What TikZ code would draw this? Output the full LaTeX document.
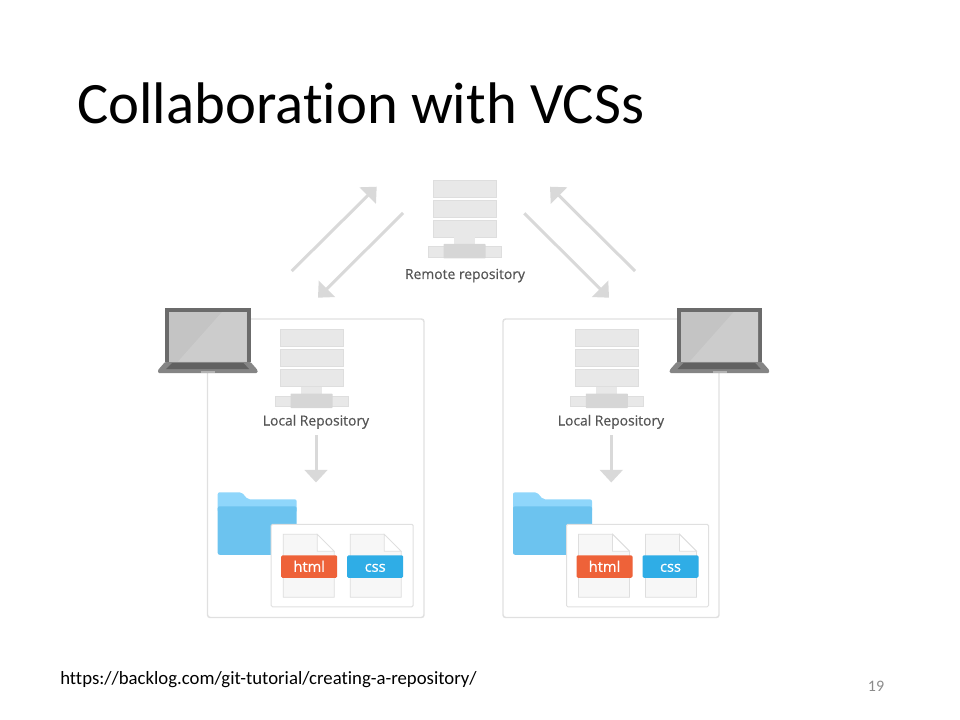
\documentclass[tikz,border=0pt]{standalone}
\usepackage{fontspec}
\setmainfont[Ligatures=NoCommon]{Carlito}
\newfontfamily\repofont[FakeBold=0.6]{Open Sans}
\usetikzlibrary{arrows.meta}

\definecolor{framegray}{HTML}{E0E0E0}
\definecolor{slabgray}{HTML}{E8E8E8}
\definecolor{slabline}{HTML}{DEDEDE}
\definecolor{blockgray}{HTML}{D6D6D6}
\definecolor{arrowgray}{HTML}{D9D9D9}
\definecolor{textgray}{HTML}{555555}
\definecolor{folderlight}{HTML}{8FD6FB}
\definecolor{folderbody}{HTML}{6CC3EF}
\definecolor{htmlred}{HTML}{EE6239}
\definecolor{cssblue}{HTML}{2FADE6}
\definecolor{pagegray}{HTML}{8B8B8B}

\tikzset{
  flow/.style={draw=arrowgray,line width=2.25pt,-{Triangle[length=9.5pt,width=17pt,fill=arrowgray]}},
  repolabel/.style={font=\repofont\fontsize{10.4}{12}\selectfont,text=textgray,inner sep=0pt},
  slab/.style={fill=slabgray,draw=slabline,line width=0.4pt},
  filetag/.style={text=white,font=\repofont\fontsize{11}{13}\selectfont,inner sep=0pt},
  pics/serverstack/.style={code={
    \path[slab] (-31.5,0) rectangle (31.5,17);
    \path[slab] (-31.5,20) rectangle (31.5,37);
    \path[slab] (-31.5,40) rectangle (31.5,57);
    \fill[slabgray] (-10.5,57) rectangle (10.5,66);
    \path[slab] (-36.5,66.5) rectangle (36.5,77);
    \fill[blockgray,rounded corners=0.5pt] (-21,64) rectangle (21,78.5);
  }},
  pics/laptop/.style={code={
    \fill[black!58] (0,0) rectangle (85.5,54);
    \fill[black!23] (4,4) rectangle (81.5,53.5);
    \fill[black!20] (13,53.5) -- (57,4) -- (81.5,4) -- (81.5,53.5) -- cycle;
    \fill[black!48,rounded corners=0.8pt] (0,54) -- (85.5,54) -- (92.5,62) -- (92.5,65) -- (-7,65) -- (-7,62) -- cycle;
    \fill[black!62] (7,55) -- (78.5,55) -- (84,61) -- (1,61) -- cycle;
    \fill[black!30] (36,63) rectangle (50,65);
  }},
  pics/workspace/.style={code={
    % folder behind the two files
    \fill[folderlight,rounded corners=1.5pt] (0,0) -- (24,0) -- (30,7) -- (79,7) -- (79,20) -- (0,20) -- cycle;
    \fill[folderbody,rounded corners=1.5pt] (0,14) -- (79,14) -- (79,62.5) -- (0,62.5) -- cycle;
    \draw[framegray,fill=white,line width=0.75pt,rounded corners=1pt] (53.5,32) rectangle (195.5,114.5);
    \foreach \fx in {65.5,132.5} {
      \draw[slabline,fill=black!3,line width=0.6pt] (\fx,42) -- (\fx+34,42) -- (\fx+51,59) -- (\fx+51,105) -- (\fx,105) -- cycle;
      \draw[slabline,fill=white,line width=0.6pt] (\fx+34,42) -- (\fx+34,59) -- (\fx+51,59) -- cycle;
    }
    \fill[htmlred,rounded corners=1pt] (63.5,63) rectangle (119.5,85.5);
    \fill[cssblue,rounded corners=1pt] (129.5,63) rectangle (185.5,85.5);
    \node[filetag,anchor=base] (-html) at (91.5,79.5) {html};
    \node[filetag,anchor=base] (-css) at (157.5,79.5) {css};
  }}
}

\begin{document}
\begin{tikzpicture}[x=0.75pt,y=-0.75pt]
  \useasboundingbox (0,0) rectangle (960,720);

  \node[anchor=base west,inner sep=0pt,font=\fontsize{44}{50}\selectfont] (title) at (77,124) {Collaboration with VCSs};
  \node[anchor=base west,inner sep=0pt,font=\fontsize{14.07}{16}\selectfont] (source) at (60,684) {https://backlog.com/git-tutorial/creating-a-repository/};
  \node[inner sep=0pt,text=pagegray,font=\fontsize{12}{14}\selectfont] (pagenum) at (876,686) {19};

  % remote side
  \pic (remote) at (464.5,180) {serverstack};
  \node[repolabel,anchor=base] (remotelabel) at (465,279) {Remote repository};

  % the two frames
  \draw[framegray,line width=1.1pt,rounded corners=2pt] (207.5,319) rectangle (424,617.5);
  \draw[framegray,line width=1.1pt,rounded corners=2pt] (503,319) rectangle (719,617.5);

  \pic at (165,308) {laptop};
  \pic at (676.7,308) {laptop};

  \pic (localA) at (311.5,329.5) {serverstack};
  \pic (localB) at (606.8,329.5) {serverstack};
  \node[repolabel,anchor=base] (labelA) at (316,425.5) {Local Repository};
  \node[repolabel,anchor=base] (labelB) at (611,425.5) {Local Repository};

  \pic (filesA) at (217.7,492.3) {workspace};
  \pic (filesB) at (513,492.3) {workspace};

  \coordinate (pushAtail) at (291.7,271);
  \coordinate (pushAtip) at (376.7,186.7);
  \coordinate (pullAtail) at (403,213);
  \coordinate (pullAtip) at (318,297.7);
  \coordinate (pullBtail) at (524.3,213.3);
  \coordinate (pullBtip) at (609,297.7);
  \coordinate (pushBtail) at (635,271);
  \coordinate (pushBtip) at (550,186.7);
  \coordinate (checkAtop) at (316,435);
  \coordinate (checkAtip) at (316,482.5);
  \coordinate (checkBtop) at (611.3,435);
  \coordinate (checkBtip) at (611.3,482.5);

  \draw[flow] (pushAtail) -- (pushAtip);
  \draw[flow] (pullAtail) -- (pullAtip);
  \draw[flow] (pullBtail) -- (pullBtip);
  \draw[flow] (pushBtail) -- (pushBtip);
  \draw[flow] (checkAtop) -- (checkAtip);
  \draw[flow] (checkBtop) -- (checkBtip);
\end{tikzpicture}
\end{document}
